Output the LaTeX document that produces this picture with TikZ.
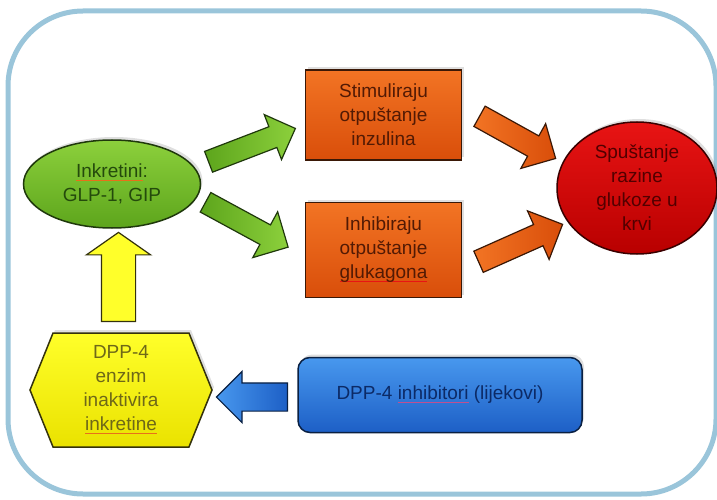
\documentclass[tikz,border=0pt]{standalone}
\usepackage{fontspec}
\setmainfont{Liberation Sans}
\usepackage{xcolor}
\usetikzlibrary{shapes.geometric, shapes.arrows, shapes.symbols, shadows}

\definecolor{framec}{HTML}{9AC5DA}
\definecolor{grnA}{HTML}{8CD03C}
\definecolor{grnB}{HTML}{5DA51C}
\definecolor{grnD}{HTML}{1F380C}
\definecolor{grnT}{HTML}{244A0C}
\definecolor{orA}{HTML}{F27424}
\definecolor{orB}{HTML}{D94E0A}
\definecolor{orD}{HTML}{3A1806}
\definecolor{orT}{HTML}{521A04}
\definecolor{redA}{HTML}{E81414}
\definecolor{redB}{HTML}{B80000}
\definecolor{redD}{HTML}{3A0000}
\definecolor{redT}{HTML}{520000}
\definecolor{yelA}{HTML}{FFFF2A}
\definecolor{yelB}{HTML}{EAE200}
\definecolor{yelD}{HTML}{34320C}
\definecolor{yelT}{HTML}{6E6818}
\definecolor{bluA}{HTML}{4898EE}
\definecolor{bluB}{HTML}{1D5FC6}
\definecolor{bluD}{HTML}{0A2042}
\definecolor{bluT}{HTML}{0C2A66}
\definecolor{spellO}{HTML}{E8701A}
\definecolor{spellP}{HTML}{C05090}

% spell-check underline as in the original slide
\newcommand\spell[2]{\leavevmode\setbox0\hbox{#2}%
  \rlap{\color{#1}\rule[-3.5pt]{\wd0}{1pt}}\box0\relax}

\begin{document}
\begin{tikzpicture}[x=1pt, y=-1pt,
  every node/.style={font=\fontsize{19}{24}\selectfont, align=center},
  blob/.style={draw, line width=1.5pt, inner sep=0pt,
    drop shadow={opacity=0.25, shadow xshift=2pt, shadow yshift=3pt}},
  fatarrow/.style n args={4}{single arrow, draw=#4, line width=1.2pt,
    inner xsep=0pt, inner ysep=#2, single arrow head extend=#3,
    minimum height=#1, anchor=tail}]
\useasboundingbox (0,0) rectangle (717,500);
% Outer frame
\draw[framec, line width=5pt, rounded corners=75pt] (8,11) rectangle (716,494);
% Block arrows
\node[fatarrow={93}{10.5}{13}{grnD}, left color=grnB, right color=grnA, rotate=21]
  (arrins) at (208,162) {};
\node[fatarrow={94}{10.5}{15}{grnD}, left color=grnB, right color=grnA, rotate=-28.5]
  (arrglu) at (205,202) {};
\node[fatarrow={87}{11}{14}{orD}, left color=orA, right color=orB, rotate=-29]
  (arrupp) at (479,116) {};
\node[fatarrow={92}{11}{15}{orD}, left color=orA, right color=orB, rotate=24]
  (arrlow) at (478,262) {};
\node[fatarrow={89}{16.5}{15}{yelD}, fill=yelA, single arrow tip angle=110, rotate=90]
  (arrup) at (118.5,322) {};
\node[fatarrow={71}{13.5}{11.5}{bluD}, left color=bluA, right color=bluB, rotate=180]
  (arrleft) at (288,397) {};
% Incretins
\node[blob, ellipse, draw=grnD, top color=grnA, bottom color=grnB, text=grnT,
  minimum width=177, minimum height=88] (inkr) at (112,184)
  {\spell{spellO}{Inkretini}:\\GLP-1, GIP};
% Effects on hormones
\node[blob, rectangle, draw=orD, top color=orA, bottom color=orB, text=orT,
  minimum width=156, minimum height=90] (ins) at (383.5,115)
  {Stimuliraju\\otpuštanje\\inzulina};
\node[blob, rectangle, draw=orD, top color=orA, bottom color=orB, text=orT,
  minimum width=156, minimum height=95] (glu) at (383.5,250)
  {Inhibiraju\\otpuštanje\\\spell{redA}{glukagona}};
% Outcome
\node[blob, ellipse, draw=redD, top color=redA, bottom color=redB, text=redT,
  minimum width=160, minimum height=132] (gluk) at (637,188)
  {Spuštanje\\razine\\glukoze u\\krvi};
% Enzyme
\node[blob, signal, signal to=west and east, signal from=nowhere,
  signal pointer angle=136, draw=yelD, top color=yelA, bottom color=yelB, text=yelT,
  minimum width=182, minimum height=114] (dpp) at (121,390)
  {DPP-4\\enzim\\inaktivira\\\spell{spellO}{inkretine}};
% Drugs
\node[blob, rectangle, rounded corners=12pt, draw=bluD, top color=bluA, bottom color=bluB,
  text=bluT, minimum width=284, minimum height=75] (drug) at (440,395)
  {DPP-4 \spell{spellP}{inhibitori} (lijekovi)};
\end{tikzpicture}
\end{document}
